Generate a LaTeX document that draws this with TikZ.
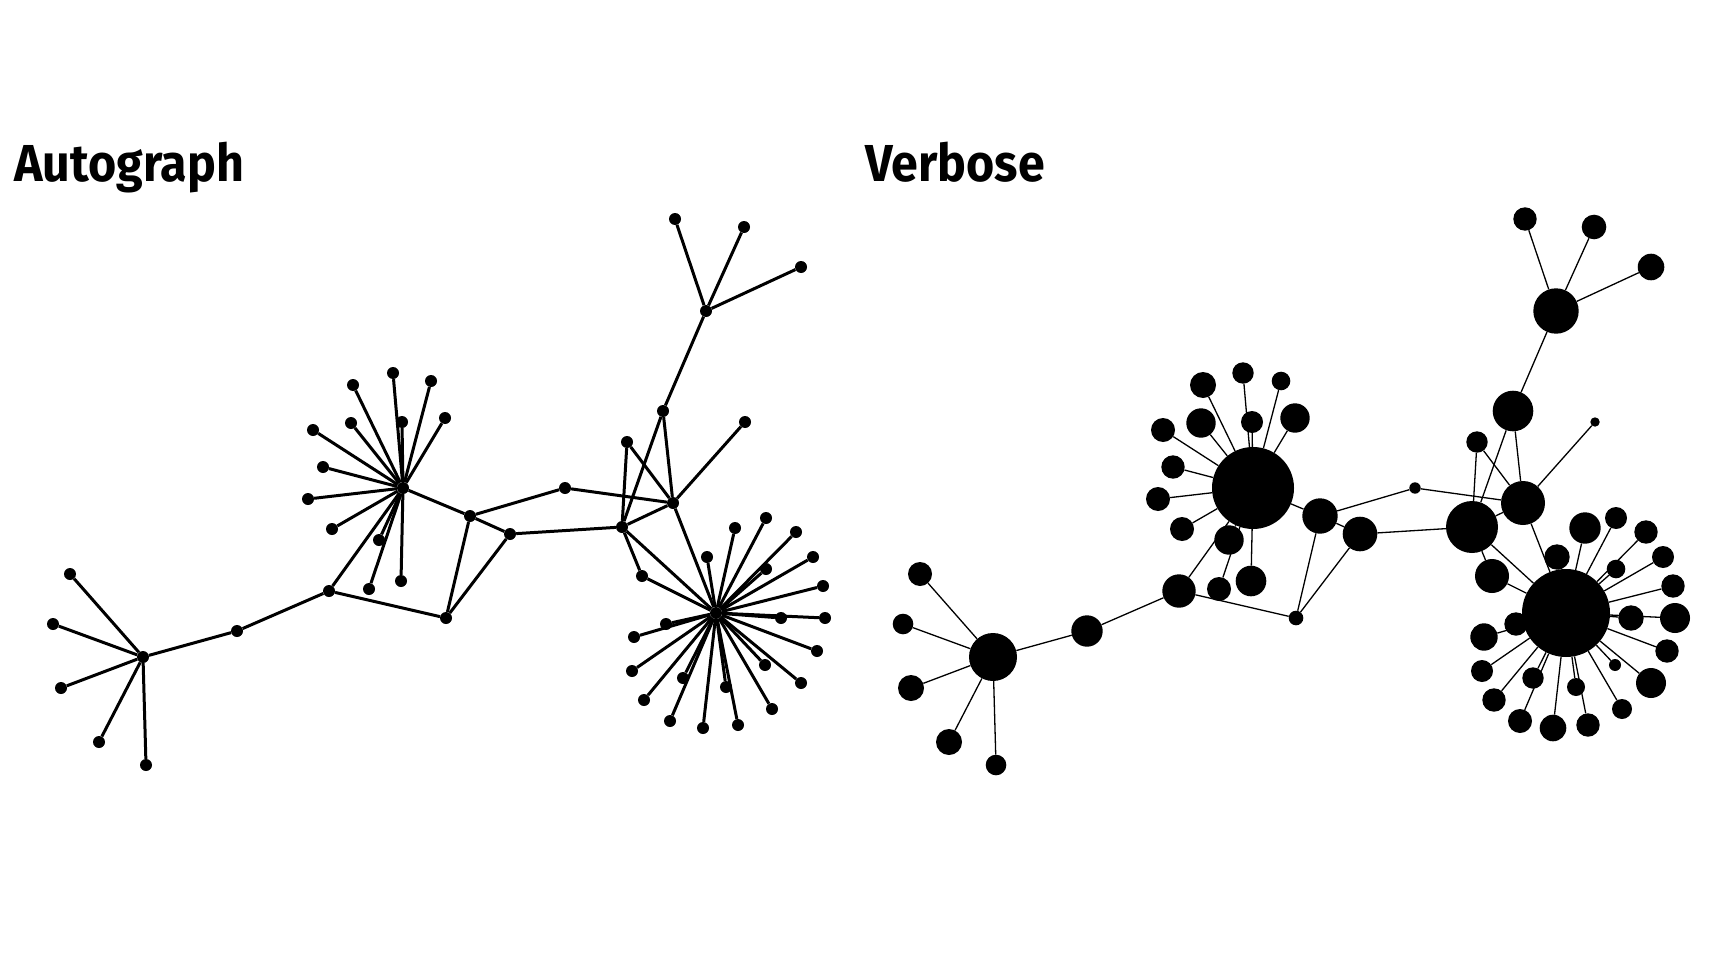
\documentclass[tikz,border=0pt]{standalone}
\usepackage{fontspec}
\newfontfamily\titlefont{Fira Sans}[FakeStretch=0.93]
\usetikzlibrary{positioning}

\tikzset{
  title/.style={anchor=base west, inner sep=0pt, font=\titlefont\bfseries\fontsize{52}{60}\selectfont},
  adot/.style={circle, fill=black, inner sep=0pt, minimum size=12},
  vdot/.style={circle, fill=black, inner sep=0pt, minimum size=2*#1},
  aedge/.style={line width=3},
  vedge/.style={line width=1.3},
}

\begin{document}
\begin{tikzpicture}[x=1pt,y=-1pt]
\useasboundingbox (0,0) rectangle (1728,960);

\node[title] (atitle) at (14,182) {Autograph};
\node[title] (vtitle) at (865,182) {Verbose};

\foreach \n/\x/\y/\r in {
  L/143/657/24, l1/70/574/12, l2/53/624/10.3, l3/61/688/13, l4/99/742/13, l5/146/765/10.3,
  m/237/631/15.7, n3/329/591/16.7, p/446/618/7.3, n1/470/516/17.7, n2/510/534/17.3,
  q/565/488/5.7, n5/622/527/26, n6/673/503/22, u/663/411/20.3, v/627/442/10.7,
  w/745/422/4.7, t/706/311/22.7, t1/675/219/11.7, t2/744/227/12.3, t3/801/267/13.3,
  h1/403/488/41, h2/716/613/44, s/642/576/17,
  b1/393/373/10.7, b2/353/385/13, b3/431/381/9.3, b4/402/422/11, b5/445/418/14.7,
  b6/351/423/14.7, b7/313/430/12, b8/323/467/11.7, b9/308/499/12, b10/332/529/12,
  b11/379/540/14.7, b12/369/589/12, b13/401/581/15.3,
  c1/707/557/12.7, c2/735/528/15.7, c3/766/518/11, c4/796/532/11.7, c5/766/569/9.3,
  c6/813/557/11, c7/823/586/11.7, c8/781/618/12.7, c9/825/618/15, c10/817/651/11.7,
  c11/765/665/6, c12/801/683/15, c13/772/709/10, c14/726/687/9, c15/738/725/11.7,
  c16/703/728/13.3, c17/670/721/12, c18/644/700/11.7, c19/683/678/10.7,
  c20/632/671/11, c21/634/637/13.7, c22/666/624/11.7}{
  \node[adot] (a\n) at (\x,\y) {};
  \node[vdot=\r] (v\n) at (\x+850,\y) {};
}

\foreach \s/\e in {L/l1, L/l2, L/l3, L/l4, L/l5, L/m, m/n3, n3/h1, n3/p, p/n1, p/n2,
  n1/h1, n1/n2, n1/q, q/n6, n2/n5, n5/n6, n5/u, n5/v, v/n6, u/n6, u/t, t/t1, t/t2, t/t3,
  n6/w, n6/h2, n5/h2, n5/s, s/h2}{
  \draw[aedge] (a\s) -- (a\e);
  \draw[vedge] (v\s) -- (v\e);
}
\foreach \i in {1,...,13}{
  \draw[aedge] (ah1) -- (ab\i);
  \draw[vedge] (vh1) -- (vb\i);
}
\foreach \i in {1,...,22}{
  \draw[aedge] (ah2) -- (ac\i);
  \draw[vedge] (vh2) -- (vc\i);
}
\end{tikzpicture}
\end{document}
